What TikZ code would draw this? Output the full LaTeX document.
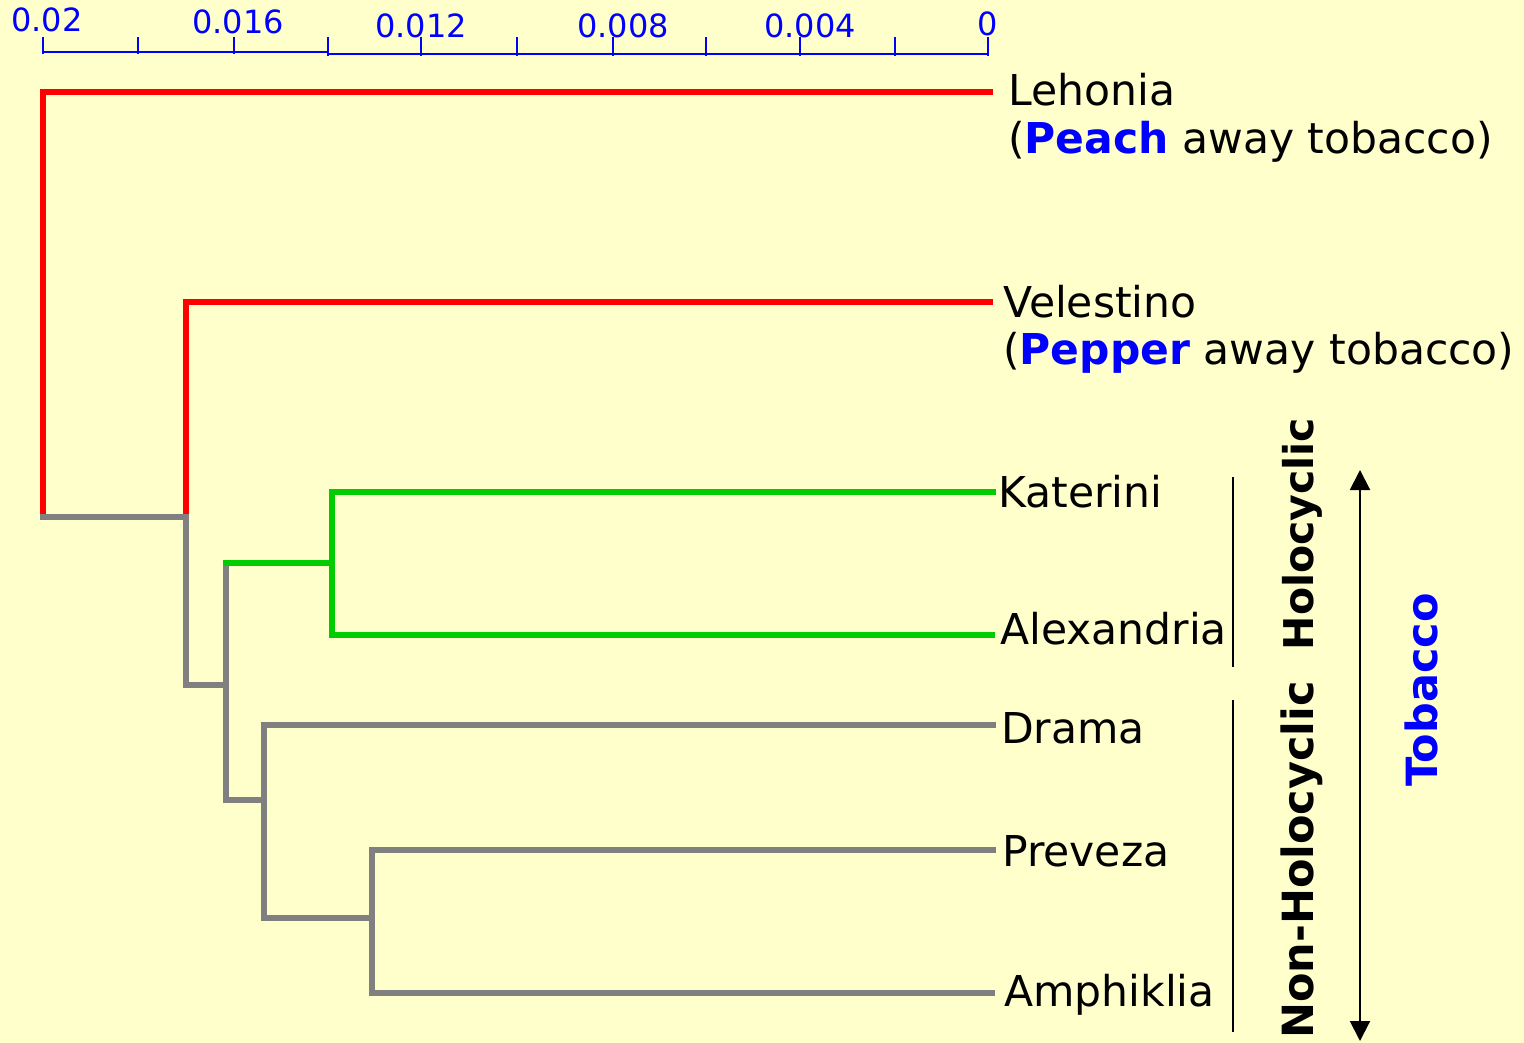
\documentclass[tikz,border=0pt]{standalone}
\usepackage{fontspec}
\setmainfont{DejaVu Sans}
\usetikzlibrary{arrows.meta}
\definecolor{bg}{HTML}{FFFFCC}
\definecolor{tred}{HTML}{FF0000}
\definecolor{tgreen}{HTML}{00CC00}
\definecolor{tgray}{HTML}{808080}
\definecolor{tblue}{HTML}{0000FF}
\begin{document}
\begin{tikzpicture}[x=1pt,y=-1pt,
  br/.style={line width=6.5pt,line cap=rect},
  redbr/.style={br,draw=tred},
  greenbr/.style={br,draw=tgreen},
  graybr/.style={br,draw=tgray},
  axis/.style={draw=tblue,line width=2pt},
  axlab/.style={text=tblue,font=\fontsize{32}{36}\selectfont,inner sep=0pt},
  leaf/.style={anchor=west,inner sep=0pt,font=\fontsize{42.5}{50}\selectfont,align=left},
  vlab/.style={rotate=90,inner sep=0pt,font=\fontsize{41}{48}\selectfont\bfseries},
  brk/.style={draw=black,line width=1.6pt}]
\fill[bg] (0,0) rectangle (1524,1043);
\useasboundingbox (0,0) rectangle (1524,1043);
% axis
\draw[axis] (43,52) -- (328,52);
\draw[axis] (328,54) -- (988,54);
\foreach \x/\yb in {43/52,138/52,234/52,328/54,421/54,517/54,613/54,706/54,800/54,895/54,988/54}
  \draw[axis] (\x,37) -- (\x,\yb+2);
\node[axlab] (a1) at (47,20) {0.02};
\node[axlab] (a2) at (238,22) {0.016};
\node[axlab] (a3) at (421,26) {0.012};
\node[axlab] (a4) at (623,26) {0.008};
\node[axlab] (a5) at (810,26) {0.004};
\node[axlab] (a6) at (988,24) {0};
% leaf labels
\node[leaf] (leh) at (1008,90) {Lehonia};
\node[leaf] (leh2) at (1008,142) {(\textcolor{tblue}{\bfseries Peach} away tobacco)};
\node[leaf] (vel) at (1003,302) {Velestino};
\node[leaf] (vel2) at (1003,353) {(\textcolor{tblue}{\bfseries Pepper} away tobacco)};
\node[leaf] (kat) at (998,492) {Katerini};
\node[leaf] (ale) at (1000,629) {Alexandria};
\node[leaf] (dra) at (1001,728) {Drama};
\node[leaf] (pre) at (1002,851) {Preveza};
\node[leaf] (amp) at (1004,995) {Amphiklia};
% tree coordinates
\coordinate (root) at (43,517);
\coordinate (n1) at (186,517);
\coordinate (n2) at (186,685);
\coordinate (n3) at (226,685);
\coordinate (g0) at (226,563);
\coordinate (g1) at (332,563);
\coordinate (n4) at (226,800);
\coordinate (n5) at (264,800);
\coordinate (n6) at (264,918);
\coordinate (n7) at (372,918);
\coordinate (eL) at (990,92);
\coordinate (eV) at (990,302);
\coordinate (eK) at (993,492);
\coordinate (eA) at (992,635);
\coordinate (eD) at (993,725);
\coordinate (eP) at (993,850);
\coordinate (eM) at (992,993);
% red
\draw[redbr] (root) -- (43,92) -- (eL);
\draw[redbr] (n1) -- (186,302) -- (eV);
% gray
\draw[graybr] (root) -- (n1);
\draw[graybr] (n1) -- (n2) -- (n3);
\draw[graybr] (g0) -- (n4);
\draw[graybr] (n4) -- (n5);
\draw[graybr] (264,725) -- (n6);
\draw[graybr] (264,725) -- (eD);
\draw[graybr] (n6) -- (n7);
\draw[graybr] (372,850) -- (372,993);
\draw[graybr] (372,850) -- (eP);
\draw[graybr] (372,993) -- (eM);
% green
\draw[greenbr] (g0) -- (g1);
\draw[greenbr] (332,492) -- (332,635);
\draw[greenbr] (332,492) -- (eK);
\draw[greenbr] (332,635) -- (eA);
% brackets
\coordinate (b1t) at (1233,477);
\coordinate (b1b) at (1233,667);
\coordinate (b2t) at (1233,700);
\coordinate (b2b) at (1233,1032);
\draw[brk] (b1t) -- (b1b);
\draw[brk] (b2t) -- (b2b);
\node[vlab] (holo) at (1302,534) {Holocyclic};
\node[vlab,font=\fontsize{43}{48}\selectfont\bfseries] (nonholo) at (1302,860) {Non-Holocyclic};
% arrow
\coordinate (at) at (1360,470);
\coordinate (ab) at (1360,1041);
\draw[draw=black,line width=2pt,{Triangle[width=20pt,length=20pt]}-{Triangle[width=20pt,length=20pt]}] (at) -- (ab);
\node[vlab,text=tblue,font=\fontsize{43}{50}\selectfont\bfseries] (tob) at (1421,690) {Tobacco};
\end{tikzpicture}
\end{document}
